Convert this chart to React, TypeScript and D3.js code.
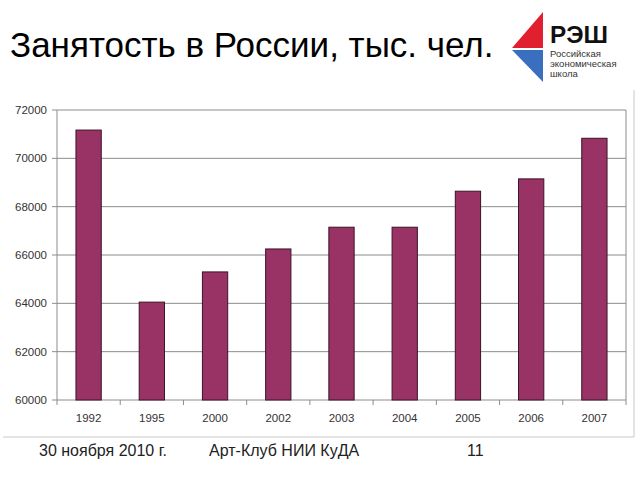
import React from "react";
import * as d3 from "d3";

const years = ["1992", "1995", "2000", "2002", "2003", "2004", "2005", "2006", "2007"];
const employment = [71170, 64050, 65300, 66250, 67150, 67150, 68640, 69150, 70830];
const yTicks = [60000, 62000, 64000, 66000, 68000, 70000, 72000];
const title = "Занятость в России, тыс. чел.";
const footer = ["30 ноября 2010 г.", "Арт-Клуб НИИ КуДА", "11"];
const logoLines = ["Российская", "экономическая", "школа"];

const W = 640;
const H = 480;
const plot = { left: 57, right: 626, top: 110, bottom: 400 };

export default function App() {
  const x = d3
    .scaleBand<string>()
    .domain(years)
    .range([plot.left, plot.right])
    .paddingInner(0.6)
    .paddingOuter(0.3);
  const xOuter = d3.scaleBand<string>().domain(years).range([plot.left, plot.right]);
  const y = d3.scaleLinear().domain([60000, 72000]).range([plot.bottom, plot.top]);
  const font = "'Liberation Sans', Arial, sans-serif";

  return (
    <svg
      width={W}
      height={H}
      style={{ position: "absolute", left: 0, top: 0, background: "#fff" }}
      fontFamily={font}
    >
      <rect x={0} y={0} width={W} height={H} fill="#fff" />
      {/* title */}
      <text x={10} y={57} fontSize={35} fill="#000">
        {title}
      </text>
      {/* logo */}
      <polygon points="543,12 512,48 543,48" fill="#e0202e" />
      <polygon points="512,50 543,50 543,82" fill="#3a6fc0" />
      <text x={550} y={43} fontSize={24} textLength={58} lengthAdjust="spacingAndGlyphs" fontWeight="bold" fill="#111">
        РЭШ
      </text>
      {logoLines.map((t, i) => (
        <text key={t} x={550} y={57 + i * 10} fontSize={9.5} fill="#333">
          {t}
        </text>
      ))}
      {/* chart frame */}
      <line x1={634} x2={634} y1={90} y2={437} stroke="#c8c8c8" />
      <line x1={3} x2={634} y1={437} y2={437} stroke="#c8c8c8" />
      {/* gridlines */}
      {yTicks.map((t) => (
        <g key={t}>
          <line x1={plot.left - 5} x2={plot.right} y1={y(t)} y2={y(t)} stroke="#8c8c8c" />
          <text x={47} y={y(t) + 4} fontSize={11.5} textAnchor="end" fill="#333">
            {t}
          </text>
        </g>
      ))}
      <line x1={plot.right} x2={plot.right} y1={plot.top} y2={plot.bottom} stroke="#8c8c8c" />
      <line x1={plot.left} x2={plot.left} y1={plot.top} y2={plot.bottom} stroke="#8c8c8c" />
      {/* x ticks */}
      {years.map((yr) => (
        <line
          key={"t" + yr}
          x1={xOuter(yr)!}
          x2={xOuter(yr)!}
          y1={plot.bottom}
          y2={plot.bottom + 5}
          stroke="#8c8c8c"
        />
      ))}
      <line x1={plot.right} x2={plot.right} y1={plot.bottom} y2={plot.bottom + 5} stroke="#8c8c8c" />
      {/* bars */}
      {years.map((yr, i) => (
        <rect
          key={yr}
          x={x(yr)!}
          y={y(employment[i])}
          width={x.bandwidth()}
          height={plot.bottom - y(employment[i])}
          fill="#993366"
          stroke="#3b1428"
          strokeWidth={1}
        />
      ))}
      {years.map((yr) => (
        <text
          key={"l" + yr}
          x={xOuter(yr)! + xOuter.bandwidth() / 2}
          y={422}
          fontSize={11.5}
          textAnchor="middle"
          fill="#333"
        >
          {yr}
        </text>
      ))}
      {/* footer */}
      <text x={39} y={456} fontSize={16} fill="#222">
        {footer[0]}
      </text>
      <text x={209} y={456} fontSize={16} fill="#222">
        {footer[1]}
      </text>
      <text x={467} y={456} fontSize={16} fill="#222">
        {footer[2]}
      </text>
    </svg>
  );
}
